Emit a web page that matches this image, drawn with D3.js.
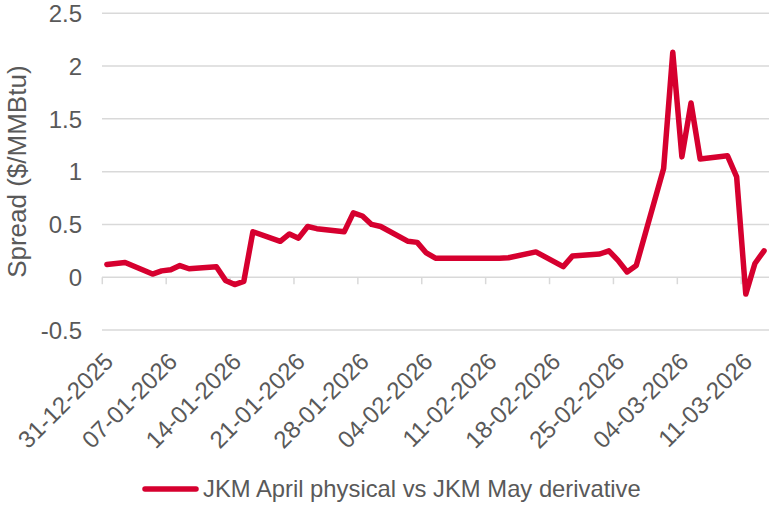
<!DOCTYPE html>
<html>
<head>
<meta charset="utf-8">
<script src="https://cdn.jsdelivr.net/npm/d3@7/dist/d3.min.js"></script>
<style>
  html, body { margin: 0; padding: 0; background: #ffffff; }
  svg { display: block; font-family: "Liberation Sans", Arial, sans-serif; }
</style>
</head>
<body>
<svg id="chart" width="769" height="506"></svg>
<script>
// ---- Data ----
const dates = [
  "31-12-2025","02-01-2026","05-01-2026","06-01-2026","07-01-2026","08-01-2026","09-01-2026",
  "12-01-2026","13-01-2026","14-01-2026","15-01-2026","16-01-2026",
  "19-01-2026","20-01-2026","21-01-2026","22-01-2026","23-01-2026",
  "26-01-2026","27-01-2026","28-01-2026","29-01-2026","30-01-2026",
  "02-02-2026","03-02-2026","04-02-2026","05-02-2026","06-02-2026",
  "09-02-2026","10-02-2026","11-02-2026","12-02-2026","13-02-2026",
  "16-02-2026","19-02-2026","20-02-2026",
  "23-02-2026","24-02-2026","25-02-2026","26-02-2026","27-02-2026",
  "02-03-2026","03-03-2026","04-03-2026","05-03-2026","06-03-2026",
  "09-03-2026","10-03-2026","11-03-2026","12-03-2026","13-03-2026"
];
const spread = [
  0.12, 0.14, 0.03, 0.06, 0.07, 0.11, 0.08,
  0.10, -0.03, -0.07, -0.04, 0.43,
  0.34, 0.41, 0.37, 0.48, 0.46,
  0.43, 0.61, 0.58, 0.50, 0.48,
  0.34, 0.33, 0.23, 0.18, 0.18,
  0.18, 0.18, 0.18, 0.18, 0.185,
  0.24, 0.10, 0.20,
  0.22, 0.25, 0.16, 0.05, 0.11,
  1.03, 2.13, 1.14, 1.65, 1.12,
  1.15, 0.95, -0.16, 0.13, 0.25
];
const xTickLabels = ["31-12-2025","07-01-2026","14-01-2026","21-01-2026","28-01-2026",
  "04-02-2026","11-02-2026","18-02-2026","25-02-2026","04-03-2026","11-03-2026"];
const yTicks = [-0.5, 0, 0.5, 1, 1.5, 2, 2.5];
const yTickLabels = ["-0.5", "0", "0.5", "1", "1.5", "2", "2.5"];
const seriesName = "JKM April physical vs JKM May derivative";
const yTitle = "Spread ($/MMBtu)";

// ---- Setup ----
const parse = d3.timeParse("%d-%m-%Y");
const HALF = 12 * 3600 * 1000;
const points = dates.map((d, i) => ({ date: parse(d), value: spread[i] }));

const svg = d3.select("#chart");
const textColor = "#595959";
const gridColor = "#d9d9d9";
const lineColor = "#d6002f";

const x = d3.scaleTime()
  .domain([new Date(parse(dates[0]).getTime() - HALF), new Date(parse(dates[dates.length - 1]).getTime() + HALF)])
  .range([102.3, 768.6]);
const y = d3.scaleLinear().domain([-0.5, 2.5]).range([330, 13.3]);
const plotLeft = 102, plotRight = 769;

// gridlines
svg.append("g").selectAll("line").data(yTicks).join("line")
  .attr("x1", plotLeft).attr("x2", plotRight)
  .attr("y1", d => y(d)).attr("y2", d => y(d))
  .attr("stroke", gridColor).attr("stroke-width", 1.5);

// y tick labels
svg.append("g").selectAll("text").data(yTicks).join("text")
  .attr("x", 82).attr("y", d => y(d))
  .attr("text-anchor", "end").attr("dy", "0.36em")
  .attr("font-size", 24).attr("fill", textColor)
  .text((d, i) => yTickLabels[i]);

// y title
svg.append("text")
  .attr("transform", `translate(26,${(y(-0.5) + y(2.5)) / 2}) rotate(-90)`)
  .attr("text-anchor", "middle")
  .attr("font-size", 26).attr("fill", textColor)
  .text(yTitle);

// x tick marks (at slot boundaries) on zero line
const y0 = y(0);
const tickDates = xTickLabels.map(parse);
svg.append("g").selectAll("line").data(tickDates).join("line")
  .attr("x1", d => x(new Date(d.getTime() - HALF)))
  .attr("x2", d => x(new Date(d.getTime() - HALF)))
  .attr("y1", y0).attr("y2", y0 + 7)
  .attr("stroke", gridColor).attr("stroke-width", 1.5);

// x tick labels
svg.append("g").selectAll("text").data(tickDates).join("text")
  .attr("transform", d => `translate(${x(d) + 2},${357}) rotate(-45)`)
  .attr("text-anchor", "end").attr("dy", "0.35em")
  .attr("font-size", 24).attr("fill", textColor)
  .text((d, i) => xTickLabels[i]);

// series line
const line = d3.line().x(d => x(d.date)).y(d => y(d.value));
svg.append("path").datum(points)
  .attr("d", line)
  .attr("fill", "none").attr("stroke", lineColor)
  .attr("stroke-width", 5.5).attr("stroke-linejoin", "round").attr("stroke-linecap", "round");

// legend
const lg = svg.append("g");
lg.append("line").attr("x1", 145).attr("x2", 196).attr("y1", 489).attr("y2", 489)
  .attr("stroke", lineColor).attr("stroke-width", 5.5).attr("stroke-linecap", "round");
lg.append("text").attr("x", 203).attr("y", 489).attr("dy", "0.35em")
  .attr("font-size", 23.8).attr("fill", textColor)
  .text(seriesName);
</script>
</body>
</html>
